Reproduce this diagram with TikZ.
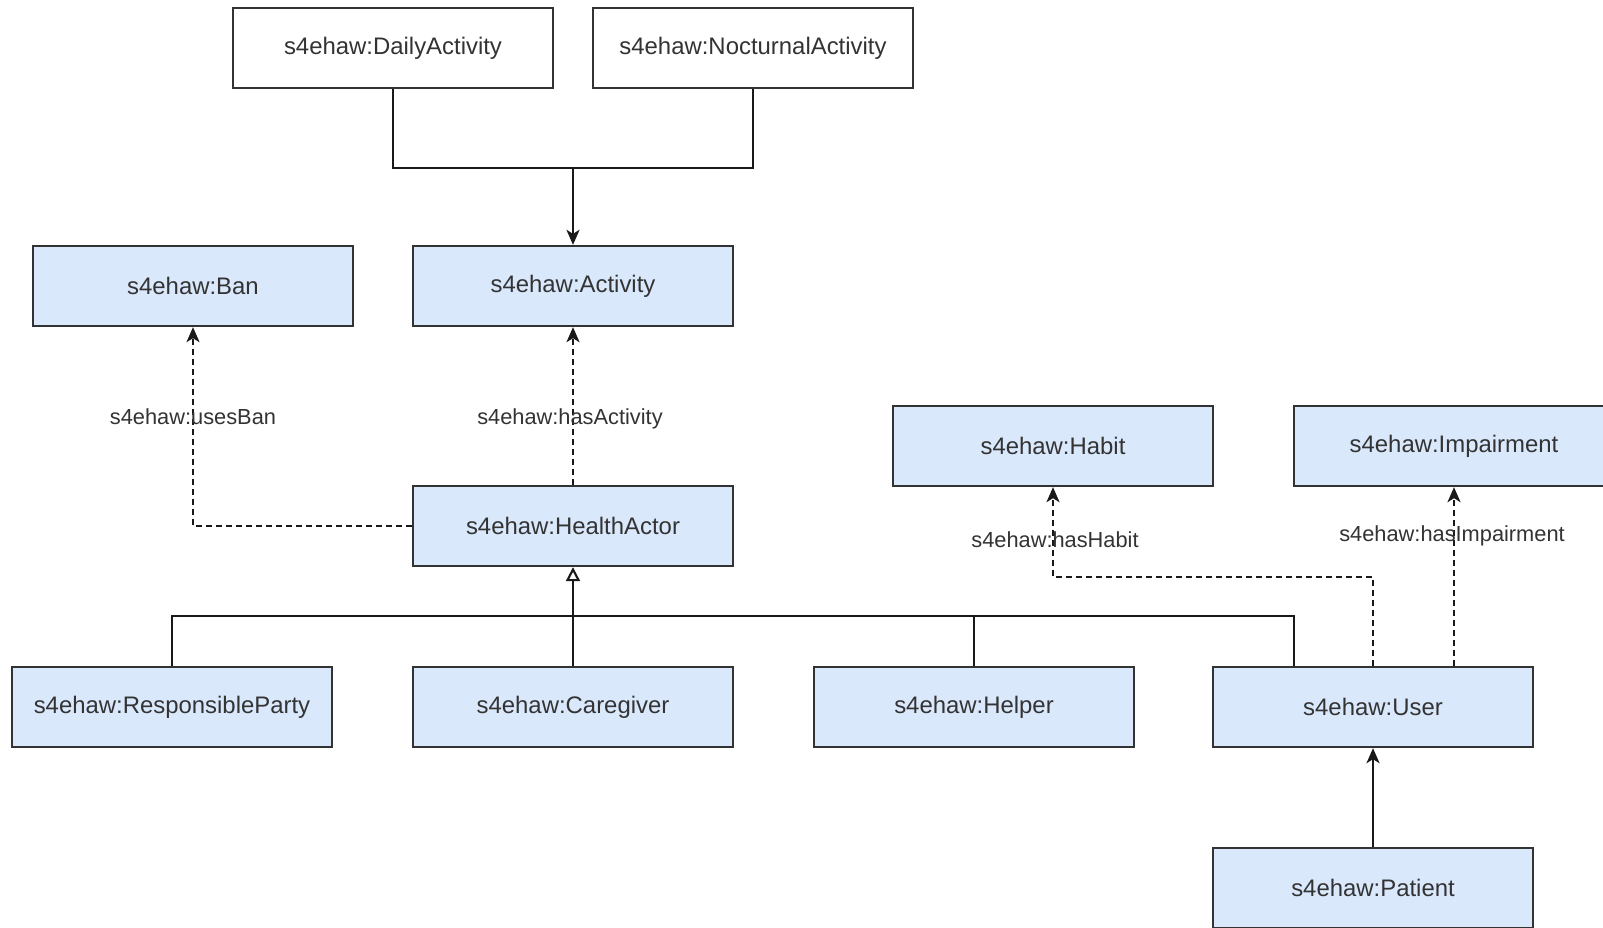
\documentclass[tikz,border=0pt]{standalone}
\usepackage{fontspec}
\setmainfont{Liberation Sans}
\usetikzlibrary{arrows.meta}
\definecolor{classfill}{HTML}{DAE8FC}
\definecolor{ink}{HTML}{333333}
\begin{document}
\begin{tikzpicture}[x=0.01cm, y=-0.01cm,
  box/.style={draw=ink, line width=0.65pt, minimum width=3.2cm, minimum height=0.8cm,
    inner sep=0pt, font=\fontsize{6.8}{8}\selectfont, text=ink},
  cls/.style={box, fill=classfill},
  plain/.style={box, fill=white},
  link/.style={draw=black!90, line width=0.6pt},
  tipfill/.style={-{Stealth[length=0.15cm, width=0.13cm, inset=0.04cm]}},
  rel/.style={link, dash pattern=on 0.06cm off 0.04cm, tipfill},
  lbl/.style={font=\fontsize{6.2}{7}\selectfont, text=ink, inner sep=1pt}]

% canvas
\useasboundingbox (0,0) rectangle (1603,927);
\fill[white] (0,0) rectangle (1603,927);
\clip (0,0) rectangle (1603,927);

% classes
\node[plain] (daily)   at (393,48)   {s4ehaw:DailyActivity};
\node[plain] (noct)    at (753,48)   {s4ehaw:NocturnalActivity};
\node[cls]   (ban)     at (193,286)  {s4ehaw:Ban};
\node[cls]   (act)     at (573,286)  {s4ehaw:Activity};
\node[cls]   (ha)      at (573,526)  {s4ehaw:HealthActor};
\node[cls]   (habit)   at (1053,446) {s4ehaw:Habit};
\node[cls]   (imp)     at (1454,446) {s4ehaw:Impairment};
\node[cls]   (resp)    at (172,707)  {s4ehaw:ResponsibleParty};
\node[cls]   (care)    at (573,707)  {s4ehaw:Caregiver};
\node[cls]   (helper)  at (974,707)  {s4ehaw:Helper};
\node[cls]   (user)    at (1373,707) {s4ehaw:User};
\node[cls]   (patient) at (1373,888) {s4ehaw:Patient};

% junction points
\coordinate (join)  at (573,168);
\coordinate (tree)  at (573,616);
\coordinate (treeR) at (1294,616);
\coordinate (hb)    at (1053,577);

% activity kinds
\draw[link] (daily.south) |- (join) -| (noct.south);
\draw[link, tipfill] (join) -- (act.north);

% generalisation tree under HealthActor
\draw[link] (resp.north) |- (treeR) -- (treeR |- user.north);
\draw[link] (care.north) -- (tree);
\draw[link] (helper.north) -- (helper.north |- tree);
\draw[link, -{Triangle[open, length=0.14cm, width=0.14cm]}] (tree) -- (ha.south);

% Patient specialises User
\draw[link, tipfill] (patient.north) -- (user.south);

% object properties
\draw[rel] (ha.west) -| (ban.south);
\draw[rel] (ha.north) -- (act.south);
\draw[rel] (user.north) |- (hb) -- (habit.south);
\draw[rel] (user.north -| imp.south) -- (imp.south);

% property labels
\node[lbl] (lban)   at (193,417)  {s4ehaw:usesBan};
\node[lbl] (lact)   at (570,419)  {s4ehaw:hasActivity};
\node[lbl] (lhabit) at (1055,540) {s4ehaw:hasHabit};
\node[lbl] (limp)   at (1452,536) {s4ehaw:hasImpairment};
\end{tikzpicture}
\end{document}
